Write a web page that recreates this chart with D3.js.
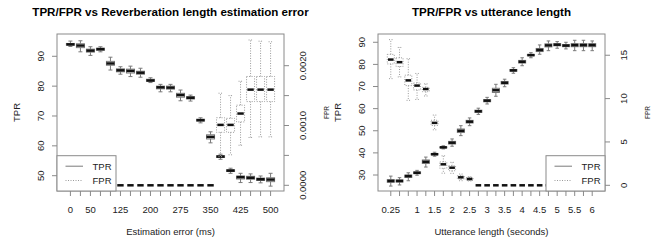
<!DOCTYPE html>
<html><head><meta charset="utf-8">
<script src="https://cdn.jsdelivr.net/npm/d3@7/dist/d3.min.js"></script>
<style>
html,body{margin:0;padding:0;background:#fff;}
svg{display:block;font-family:"Liberation Sans",Arial,Helvetica,sans-serif;}
</style></head>
<body>
<svg id="chart" width="668" height="243"></svg>
<script>
// ---------- Data ----------
const errorCats = [0,25,50,75,100,125,150,175,200,225,250,275,300,325,350,375,400,425,450,475,500];
const errorTickLabels = [0,50,125,200,275,350,425,500];
// [lowWhisker, q1, median, q3, highWhisker]
const tprByError = [
  [93.3,93.7,94.0,94.3,95.1],[91.5,92.9,93.6,94.2,95.2],[90.3,91.4,91.9,92.4,93.2],
  [91.5,92.0,92.4,92.7,93.2],[85.4,87.0,87.6,88.3,89.7],[84.0,84.8,85.3,85.8,86.5],
  [83.2,84.4,85.1,85.7,86.7],[83.0,84.0,84.5,85.0,86.0],[81.2,81.6,81.9,82.3,82.8],
  [78.1,79.1,79.6,80.0,80.6],[78.1,79.0,79.5,80.0,80.6],[75.1,76.3,77.0,77.6,78.7],
  [75.0,75.7,76.1,76.5,77.0],[67.7,68.3,68.6,68.9,69.4],[61.0,62.3,63.0,63.7,64.7],
  [55.5,56.1,56.4,56.7,57.2],[50.8,51.4,51.7,52.0,52.5],[47.7,48.9,49.5,49.9,50.8],
  [47.7,48.8,49.3,49.8,50.6],[47.6,48.4,48.8,49.2,49.9],[46.5,48.0,48.7,49.3,50.8]
];
const fprByError = [
  [0,0,0,0,0],[0,0,0,0,0],[0,0,0,0,0],[0,0,0,0,0],[0,0,0,0,0],
  [0,0,0,0,0],[0,0,0,0,0],[0,0,0,0,0],[0,0,0,0,0],[0,0,0,0,0],
  [0,0,0,0,0],[0,0,0,0,0],[0,0,0,0,0],[0,0,0,0,0],[0,0,0,0,0],
  [0.00048,0.000886,0.00101,0.00113,0.00154],
  [0.00051,0.000886,0.00101,0.00112,0.00150],
  [0.00067,0.00106,0.00120,0.00134,0.00174],
  [0.00080,0.00140,0.00160,0.00182,0.00243],
  [0.00081,0.00140,0.00160,0.00182,0.00241],
  [0.00081,0.00140,0.00160,0.00182,0.00240]
];
const errTprTicks = [50,60,70,80,90];
const errFprTicks = [0,0.0005,0.001,0.0015,0.002];
const errFprTickLabels = ["0.0000","","0.0010","","0.0020"];

const lengthCats = [0.25,0.5,0.75,1,1.25,1.5,1.75,2,2.25,2.5,2.75,3,3.25,3.5,3.75,4,4.25,4.5,4.75,5,5.25,5.5,5.75,6];
const lengthTickLabels = [0.25,1,1.5,2,2.5,3,3.5,4,4.5,5,5.5,6];
const tprByLength = [
  [25.0,26.7,27.3,27.9,29.5],[25.5,26.8,27.3,27.8,28.8],[27.4,28.9,29.5,30.0,31.0],
  [29.9,30.6,31.0,31.4,32.1],[33.6,35.2,36.0,36.8,38.1],[38.5,39.1,39.4,39.7,40.3],
  [41.8,42.3,42.5,42.7,43.2],[43.0,44.0,44.6,45.2,46.3],[47.8,49.2,50.0,50.8,52.3],
  [52.3,53.5,54.1,54.7,55.8],[57.4,58.3,58.8,59.3,60.2],[62.1,63.1,63.6,64.1,65.1],
  [65.6,67.3,68.3,69.2,71.0],[69.9,71.1,71.7,72.3,73.3],[76.0,76.9,77.3,77.7,78.5],
  [79.4,80.6,81.2,81.8,83.0],[83.0,83.9,84.2,84.5,85.3],[84.6,85.8,86.5,87.2,88.8],
  [86.2,87.9,88.6,89.3,90.6],[87.3,88.4,88.9,89.4,90.3],[87.0,88.0,88.5,89.0,90.0],
  [86.2,88.0,88.7,89.4,90.9],[86.2,88.0,88.7,89.4,90.9],[86.2,88.0,88.7,89.4,90.6]
];
const fprByLength = [
  [12.3,14.0,14.5,15.1,16.8],[12.5,13.7,14.2,14.7,15.9],[9.8,11.5,12.1,12.7,14.6],
  [9.9,11.0,11.5,11.8,12.9],[10.3,10.8,11.1,11.3,11.7],[6.4,6.9,7.2,7.5,8.1],
  [1.4,1.96,2.42,2.7,3.4],[1.38,1.68,2.03,2.26,2.65],[0.53,0.73,0.92,1.1,1.3],
  [0.5,0.57,0.73,0.88,0.99],
  [0,0,0,0,0],[0,0,0,0,0],[0,0,0,0,0],[0,0,0,0,0],[0,0,0,0,0],[0,0,0,0,0],[0,0,0,0,0],
  [0,0,0,0,0],[0,0,0,0,0],[0,0,0,0,0],[0,0,0,0,0],[0,0,0,0,0],[0,0,0,0,0],[0,0,0,0,0]
];
const lenTprTicks = [30,40,50,60,70,80,90];
const lenFprTicks = [0,5,10,15];
const lenFprTickLabels = ["0","5","10","15"];

// ---------- Drawing ----------
const svg = d3.select("#chart");
const FRAME = "#8a8a8a", BOXC = "#7a7a7a", DOTC = "#9a9a9a", TXT = "#222";

function panel(cfg){
  const g = svg.append("g");
  const {x0,x1,y0,y1} = cfg;
  const x = d3.scalePoint().domain(cfg.cats).range([x0,x1]).padding(cfg.pad);
  const step = x.step();
  const bw = step*0.8;
  const yL = d3.scaleLinear().domain(cfg.leftDomain).range([y1,y0]);
  const yR = d3.scaleLinear().domain(cfg.rightDomain).range([y1,y0]);

  g.append("text").attr("x",(x0+x1)/2).attr("y",16).attr("text-anchor","middle")
    .attr("font-weight","bold").attr("font-size",11.6).attr("fill","#000").text(cfg.title);

  function boxes(data, y, dash){
    const gg = g.append("g");
    const col = dash ? DOTC : BOXC;
    const mw = dash ? bw*0.8 : bw;
    data.forEach((d,i)=>{
      const cx = x(cfg.cats[i]);
      const [lo,q1,md,q3,hi] = d;
      const st = gg.append("g").attr("stroke",col).attr("fill","none").attr("stroke-width",1);
      if(dash) st.attr("stroke-dasharray","1,1.5");
      if(hi>lo){
        st.append("line").attr("x1",cx).attr("x2",cx).attr("y1",y(q3)).attr("y2",y(hi));
        st.append("line").attr("x1",cx).attr("x2",cx).attr("y1",y(q1)).attr("y2",y(lo));
        st.append("line").attr("x1",cx-bw/4).attr("x2",cx+bw/4).attr("y1",y(hi)).attr("y2",y(hi)).attr("stroke-dasharray",null);
        st.append("line").attr("x1",cx-bw/4).attr("x2",cx+bw/4).attr("y1",y(lo)).attr("y2",y(lo)).attr("stroke-dasharray",null);
        st.append("rect").attr("x",cx-bw/2).attr("y",y(q3)).attr("width",bw).attr("height",Math.max(0.01,y(q1)-y(q3)));
      }
      gg.append("line").attr("x1",cx-mw/2).attr("x2",cx+mw/2).attr("y1",y(md)).attr("y2",y(md))
        .attr("stroke","#111").attr("stroke-width",2.5);
    });
  }
  boxes(cfg.tpr, yL, false);
  boxes(cfg.fpr, yR, true);

  g.append("rect").attr("x",x0).attr("y",y0).attr("width",x1-x0).attr("height",y1-y0)
    .attr("fill","none").attr("stroke",FRAME);

  const ax = g.append("g");
  cfg.cats.forEach(c=>{
    ax.append("line").attr("x1",x(c)).attr("x2",x(c)).attr("y1",y1).attr("y2",y1+5).attr("stroke",FRAME);
  });
  cfg.xLabels.forEach(c=>{
    ax.append("text").attr("x",x(c)).attr("y",213).attr("text-anchor","middle")
      .attr("font-size",9.5).attr("fill",TXT).text(c);
  });
  g.append("text").attr("x",(x0+x1)/2).attr("y",235).attr("text-anchor","middle")
    .attr("font-size",9.5).attr("fill",TXT).text(cfg.xTitle);

  cfg.leftTicks.forEach(t=>{
    g.append("line").attr("x1",x0-5).attr("x2",x0).attr("y1",yL(t)).attr("y2",yL(t)).attr("stroke",FRAME);
    g.append("text").attr("transform",`translate(${x0-16.5},${yL(t)}) rotate(-90)`)
      .attr("text-anchor","middle").attr("dy","0.35em").attr("font-size",9.5).attr("fill",TXT).text(t);
  });
  g.append("text").attr("transform",`translate(${x0-40},${(y0+y1)/2}) rotate(-90)`)
    .attr("text-anchor","middle").attr("dy","0.35em").attr("font-size",9.5).attr("fill",TXT).text("TPR");

  cfg.rightTicks.forEach((t,i)=>{
    g.append("line").attr("x1",x1).attr("x2",x1+5).attr("y1",yR(t)).attr("y2",yR(t)).attr("stroke",FRAME);
    if(cfg.rightLabels[i]) g.append("text").attr("transform",`translate(${x1+18.5},${yR(t)}) rotate(-90)`)
      .attr("text-anchor","middle").attr("dy","0.35em").attr("font-size",9.5).attr("fill",TXT).text(cfg.rightLabels[i]);
  });
  g.append("text").attr("transform",`translate(${x1+43},${(y0+y1)/2}) rotate(-90)`)
    .attr("text-anchor","middle").attr("dy","0.35em").attr("font-size",6.5).attr("fill",TXT).text("FPR");

  const lw = 59, lh = 35.3;
  const lx = cfg.legendRight ? x1-lw : x0;
  const ly = y1-lh;
  const lg = g.append("g");
  lg.append("rect").attr("x",lx).attr("y",ly).attr("width",lw).attr("height",lh)
    .attr("fill","#fff").attr("stroke",FRAME);
  [["TPR",null,BOXC],["FPR","1,1.5",DOTC]].forEach((s,i)=>{
    const yy = ly + 10.5 + i*14.3;
    lg.append("line").attr("x1",lx+8.5).attr("x2",lx+26).attr("y1",yy).attr("y2",yy)
      .attr("stroke",s[2]).attr("stroke-dasharray",s[1]);
    lg.append("text").attr("x",lx+35.5).attr("y",yy).attr("dy","0.35em")
      .attr("font-size",9.5).attr("fill",TXT).text(s[0]);
  });
}

panel({
  x0:57, x1:284, y0:34, y1:191,
  cats:errorCats, pad:1.34, xLabels:errorTickLabels,
  tpr:tprByError, fpr:fprByError,
  leftDomain:[44.87,97.47], rightDomain:[-0.0000953,0.0025301],
  leftTicks:errTprTicks, rightTicks:errFprTicks, rightLabels:errFprTickLabels,
  title:"TPR/FPR vs Reverberation length estimation error",
  xTitle:"Estimation error (ms)", legendRight:false
});
panel({
  x0:378, x1:605, y0:34, y1:191,
  cats:lengthCats, pad:1.46, xLabels:lengthTickLabels,
  tpr:tprByLength, fpr:fprByLength,
  leftDomain:[22.77,93.74], rightDomain:[-0.657,17.45],
  leftTicks:lenTprTicks, rightTicks:lenFprTicks, rightLabels:lenFprTickLabels,
  title:"TPR/FPR vs utterance length",
  xTitle:"Utterance length (seconds)", legendRight:true
});
</script>
</body></html>
